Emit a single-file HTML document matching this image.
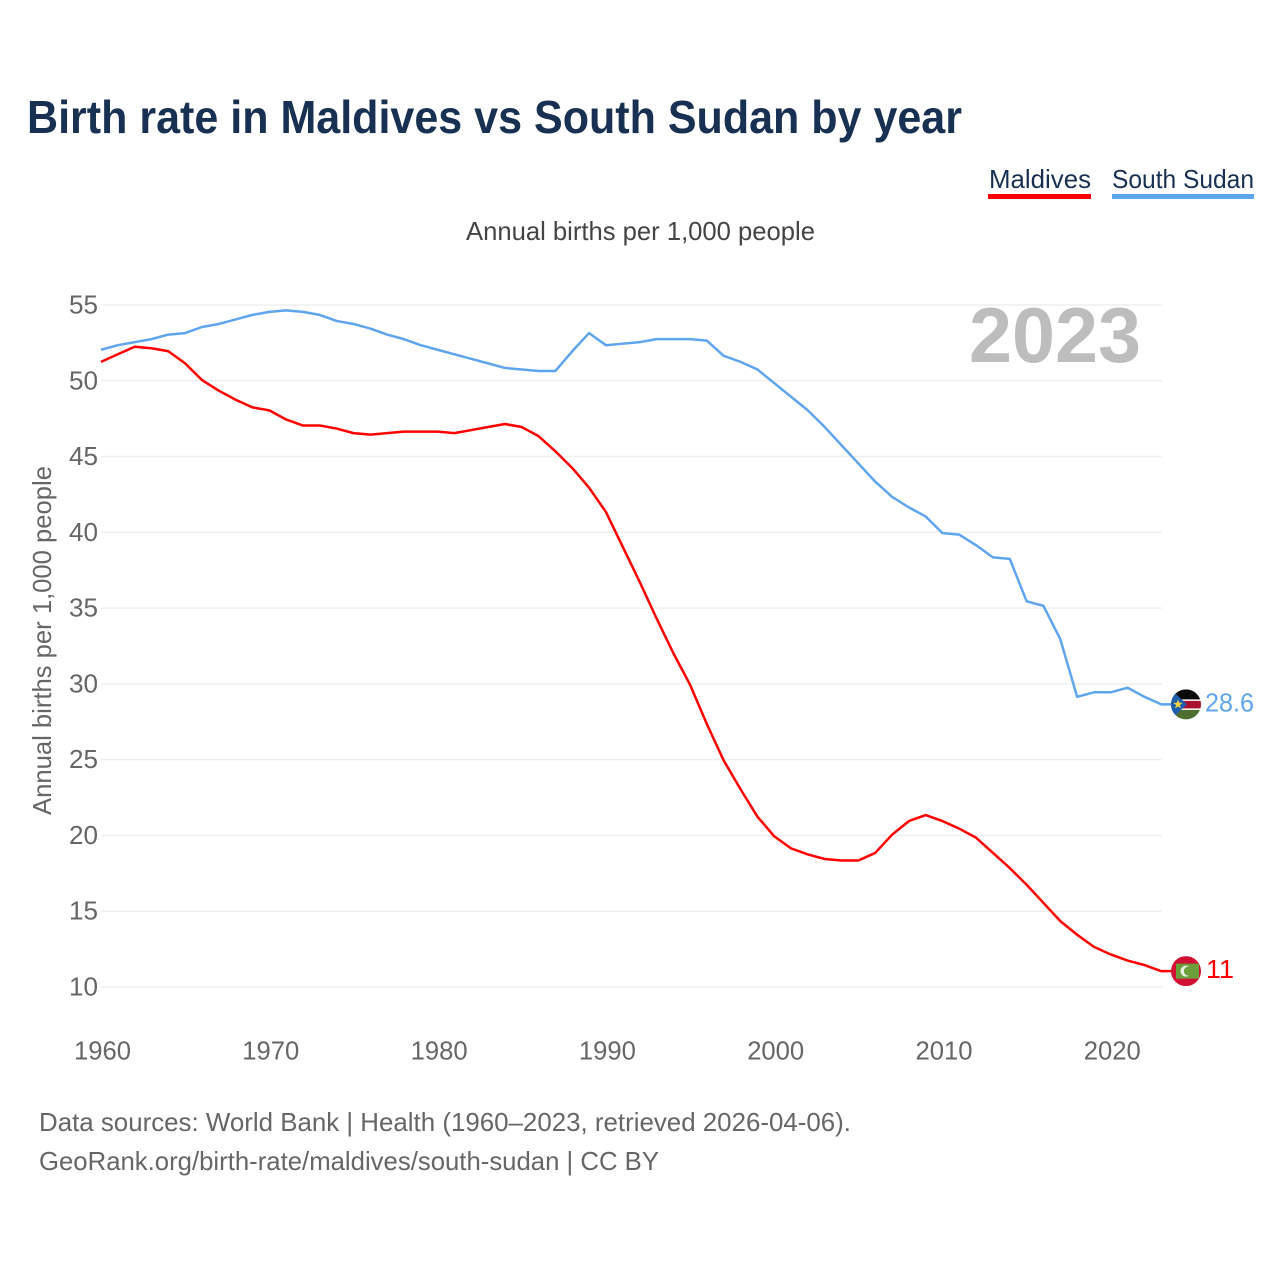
<!DOCTYPE html>
<html lang="en">
<head>
<meta charset="utf-8">
<title>Birth rate in Maldives vs South Sudan by year</title>
<style>
html,body{margin:0;padding:0;background:#fff;width:1280px;height:1280px;overflow:hidden}
svg{display:block;font-family:"Liberation Sans",sans-serif}
</style>
</head>
<body>
<svg id="chart" xmlns="http://www.w3.org/2000/svg" width="1280" height="1280" viewBox="0 0 1280 1280">
  <defs>
    <clipPath id="clip-ss"><circle id="clip-ss-c" r="15"></circle></clipPath>
    <clipPath id="clip-mv"><circle id="clip-mv-c" r="15"></circle></clipPath>
  </defs>
  <text x="27" y="133" font-size="46" font-weight="700" fill="#183153" textLength="935" lengthAdjust="spacingAndGlyphs">Birth rate in Maldives vs South Sudan by year</text>
  <text x="989" y="188" font-size="26" fill="#183153" textLength="102" lengthAdjust="spacingAndGlyphs">Maldives</text>
  <rect x="988" y="194" width="103" height="5" fill="#ff0000"></rect>
  <text x="1112" y="188" font-size="26" fill="#183153" textLength="142" lengthAdjust="spacingAndGlyphs">South Sudan</text>
  <rect x="1112" y="194" width="142" height="5" fill="#5fa5ee"></rect>
  <text x="466" y="240" font-size="26" fill="#444" textLength="349" lengthAdjust="spacingAndGlyphs">Annual births per 1,000 people</text>
  <text transform="translate(51,815) rotate(-90)" font-size="26" fill="#666" textLength="349" lengthAdjust="spacingAndGlyphs">Annual births per 1,000 people</text>
  <g id="grid"></g>
  <g id="yticks"></g>
  <g id="xticks"></g>
  <text x="969" y="362" font-size="78" font-weight="700" fill="#bdbdbd" textLength="172" lengthAdjust="spacingAndGlyphs">2023</text>
  <g id="series"></g>
  <g id="flag-ss"></g>
  <g id="flag-mv"></g>
  <text id="end-ss" font-size="26" fill="#5fa5ee" textLength="49" lengthAdjust="spacingAndGlyphs"></text>
  <text id="end-mv" font-size="26" fill="#ff0000" textLength="28" lengthAdjust="spacingAndGlyphs"></text>
  <text x="39" y="1131" font-size="26" fill="#666" textLength="812" lengthAdjust="spacingAndGlyphs">Data sources: World Bank | Health (1960–2023, retrieved 2026-04-06).</text>
  <text x="39" y="1170" font-size="26" fill="#666" textLength="620" lengthAdjust="spacingAndGlyphs">GeoRank.org/birth-rate/maldives/south-sudan | CC BY</text>
</svg>
<script>
const startYear = 1960;
const yTickValues = [10, 15, 20, 25, 30, 35, 40, 45, 50, 55];
const xTickValues = [1960, 1970, 1980, 1990, 2000, 2010, 2020];
const maldives = [51.2,51.7,52.2,52.1,51.9,51.1,50.0,49.3,48.7,48.2,48.0,47.4,47.0,47.0,46.8,46.5,46.4,46.5,46.6,46.6,46.6,46.5,46.7,46.9,47.1,46.9,46.3,45.3,44.2,42.9,41.3,39.0,36.7,34.3,32.0,29.9,27.3,24.9,23.0,21.2,19.9,19.1,18.7,18.4,18.3,18.3,18.8,20.0,20.9,21.3,20.9,20.4,19.8,18.8,17.8,16.7,15.5,14.3,13.4,12.6,12.1,11.7,11.4,11.0];
const southSudan = [52.0,52.3,52.5,52.7,53.0,53.1,53.5,53.7,54.0,54.3,54.5,54.6,54.5,54.3,53.9,53.7,53.4,53.0,52.7,52.3,52.0,51.7,51.4,51.1,50.8,50.7,50.6,50.6,51.9,53.1,52.3,52.4,52.5,52.7,52.7,52.7,52.6,51.6,51.2,50.7,49.8,48.9,48.0,46.9,45.7,44.5,43.3,42.3,41.6,41.0,39.9,39.8,39.1,38.3,38.2,35.4,35.1,32.9,29.1,29.4,29.4,29.7,29.1,28.6];
const endLabelMaldives = "11";
const endLabelSouthSudan = "28.6";

const NS = "http://www.w3.org/2000/svg";
const xScale = function (year) { return 101 + (year - 1960) * 16.83; };
const yScale = function (v) { return 987 - (v - 10) * 15.156; };
const lineY = function (v) { return yScale(v) - 0.7; };

function make(parent, tag, attrs, text) {
  const el = document.createElementNS(NS, tag);
  for (const k in attrs) el.setAttribute(k, attrs[k]);
  if (text !== undefined) el.textContent = text;
  parent.appendChild(el);
  return el;
}

const gridG = document.getElementById("grid");
const yG = document.getElementById("yticks");
const xG = document.getElementById("xticks");
const seriesG = document.getElementById("series");

yTickValues.forEach(function (v) {
  const line = make(gridG, "line", {x1: 101, x2: 1162, y1: yScale(v), y2: yScale(v), stroke: "#efefef", "stroke-width": 1.5});
  
  
  const label = make(yG, "text", {x: 98, y: yScale(v) + 8.5, "text-anchor": "end", "font-size": 26, fill: "#666", textLength: 29, lengthAdjust: "spacingAndGlyphs"}, String(v));
  
  
});

xTickValues.forEach(function (y) {
  const label = make(xG, "text", {x: xScale(y) + 1.5, y: 1059.5, "text-anchor": "middle", "font-size": 26, fill: "#666", textLength: 57, lengthAdjust: "spacingAndGlyphs"}, String(y));
  
  
});

function pathFor(values) {
  let d = values.map(function (v, i) {
    return (i ? "L" : "M") + xScale(startYear + i).toFixed(2) + " " + lineY(v).toFixed(2);
  }).join(" ");
  const last = values[values.length - 1];
  return d + " L" + (xScale(startYear + values.length - 1) + 10).toFixed(2) + " " + lineY(last).toFixed(2);
}

const pathSS = make(seriesG, "path", {d: pathFor(southSudan), fill: "none", stroke: "#5fa5ee", "stroke-width": 2.5, "stroke-linejoin": "round"});


const pathMV = make(seriesG, "path", {d: pathFor(maldives), fill: "none", stroke: "#ff0000", "stroke-width": 2.5, "stroke-linejoin": "round"});



const flagX = 1186;
const ySS = lineY(southSudan[southSudan.length - 1]);
const yMV = lineY(maldives[maldives.length - 1]);

document.getElementById("clip-ss-c").setAttribute("cx", flagX);
document.getElementById("clip-ss-c").setAttribute("cy", ySS);
document.getElementById("clip-mv-c").setAttribute("cx", flagX);
document.getElementById("clip-mv-c").setAttribute("cy", yMV);

const fs = document.getElementById("flag-ss");
fs.setAttribute("clip-path", "url(#clip-ss)");
make(fs, "rect", {x: flagX - 15, y: ySS - 15, width: 30, height: 30, fill: "#fff"});
make(fs, "rect", {x: flagX - 15, y: ySS - 15, width: 30, height: 10, fill: "#0a0a0a"});
make(fs, "rect", {x: flagX - 15, y: ySS - 3.5, width: 30, height: 7.5, fill: "#a81230"});
make(fs, "rect", {x: flagX - 15, y: ySS + 5.5, width: 30, height: 10, fill: "#4d6e2e"});
make(fs, "polygon", {points: (flagX - 15) + "," + (ySS - 15) + " " + (flagX + 1) + "," + ySS + " " + (flagX - 15) + "," + (ySS + 15), fill: "#1e5fb0"});
const sx = flagX - 8, sr = 5, si = 2;
const starPts = [];
for (let i = 0; i < 10; i++) {
  const a = -Math.PI / 2 + i * Math.PI / 5;
  const r = i % 2 ? si : sr;
  starPts.push((sx + r * Math.cos(a)).toFixed(2) + "," + (ySS + r * Math.sin(a)).toFixed(2));
}
make(fs, "polygon", {points: starPts.join(" "), fill: "#f5d33f"});

const fm = document.getElementById("flag-mv");
fm.setAttribute("clip-path", "url(#clip-mv)");
make(fm, "rect", {x: flagX - 15, y: yMV - 15, width: 30, height: 30, fill: "#d21034"});
make(fm, "rect", {x: flagX - 10, y: yMV - 7.5, width: 23, height: 15, fill: "#6a9f3c"});
make(fm, "circle", {cx: flagX, cy: yMV, r: 5.5, fill: "#e6efe0"});
make(fm, "circle", {cx: flagX + 2.5, cy: yMV, r: 4.6, fill: "#6a9f3c"});

const endSS = document.getElementById("end-ss");
endSS.setAttribute("x", 1205);
endSS.setAttribute("y", ySS + 7);
endSS.textContent = endLabelSouthSudan;
const endMV = document.getElementById("end-mv");
endMV.setAttribute("x", 1206);
endMV.setAttribute("y", yMV + 7);
endMV.textContent = endLabelMaldives;
</script>
</body>
</html>
